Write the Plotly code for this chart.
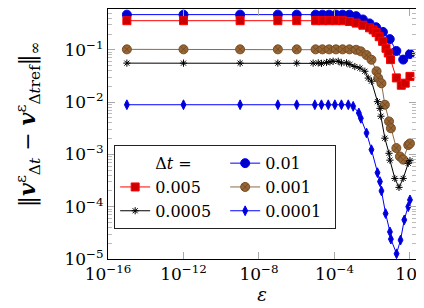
import plotly.graph_objects as go

# ---- data ----
eps_dt_1e2 = [1e-15, 1e-12, 1e-9, 1e-7, 1e-6, 1e-5, 2.3e-5, 5.2e-5, 1.2e-4, 2.7e-4, 6.2e-4,
              1.4e-3, 3.2e-3, 7.2e-3, 1.6e-2, 3.7e-2, 8.5e-2, 0.19, 0.44, 1.0]
err_dt_1e2 = [0.47, 0.47, 0.47, 0.47, 0.47, 0.47, 0.47, 0.47, 0.47, 0.47, 0.47,
              0.44, 0.38, 0.32, 0.27, 0.22, 0.16, 0.095, 0.065, 0.083]

eps_dt_5e3 = [1e-15, 1e-12, 1e-9, 1e-7, 1e-6, 1e-5, 2.3e-5, 5.2e-5, 1.2e-4, 2.7e-4, 6.2e-4,
              1.4e-3, 3.2e-3, 7.2e-3, 0.0112, 1.6e-2, 0.0234, 0.0355, 0.0537, 0.0708, 0.0933,
              0.19, 0.347, 0.562, 1.0]
err_dt_5e3 = [0.36, 0.36, 0.36, 0.36, 0.36, 0.36, 0.36, 0.36, 0.36, 0.36, 0.347,
              0.324, 0.295, 0.263, 0.24, 0.214, 0.178, 0.145, 0.107, 0.087, 0.065,
              0.029, 0.021, 0.023, 0.031]

eps_dt_1e3 = [1e-15, 1e-12, 1e-9, 1e-7, 1e-6, 1e-5, 2.3e-5, 5.2e-5, 1.2e-4, 2.7e-4, 6.2e-4,
              1.4e-3, 2.51e-3, 5.01e-3, 9.12e-3, 0.017, 0.0209, 0.0309, 0.0468, 0.0776, 0.0977,
              0.19, 0.295, 0.44, 0.813, 1.0]
err_dt_1e3 = [0.102, 0.102, 0.102, 0.102, 0.102, 0.102, 0.102, 0.102, 0.102, 0.102, 0.102,
              0.1, 0.0933, 0.0794, 0.0646, 0.0389, 0.0288, 0.0229, 0.0089, 0.00427, 0.00316,
              0.00132, 0.000912, 0.000794, 0.00151, 0.00162]

eps_dt_5e4 = [1e-15, 1e-12, 1e-9, 1e-7, 1e-6, 7.4e-6, 1.38e-5, 2.04e-5, 3.8e-5, 5.75e-5, 8.5e-5,
              1.58e-4, 2.34e-4, 4.37e-4, 6.6e-4, 1.2e-3, 2.24e-3, 4.07e-3, 6.17e-3, 9.1e-3,
              0.019, 0.0257, 0.0288, 0.0468, 0.0776, 0.087, 0.158, 0.263, 0.437, 0.813, 1.0]
err_dt_5e4 = [0.0556, 0.0556, 0.0556, 0.0556, 0.0556, 0.0556, 0.0562, 0.055, 0.0575, 0.0589, 0.0603,
              0.0603, 0.0562, 0.0562, 0.0525, 0.0479, 0.0447, 0.0389, 0.0288, 0.0251,
              0.0102, 0.00759, 0.00537, 0.00204, 0.00105, 0.000776, 0.000347, 0.000234,
              0.000347, 0.000676, 0.000759]

eps_dt_1e4 = [1e-15, 1e-12, 1e-9, 1e-7, 1e-6, 9.1e-6, 2.04e-5, 4.7e-5, 1.05e-4, 2.34e-4, 5.4e-4,
              9.8e-4, 1.95e-3, 2.5e-3, 5e-3, 9.1e-3, 0.019, 0.0257, 0.0309, 0.0513, 0.087,
              0.0977, 0.195, 0.316, 0.5, 0.813, 1.0]
err_dt_1e4 = [0.0089, 0.0089, 0.0089, 0.0089, 0.0089, 0.0089, 0.0089, 0.0089, 0.0089, 0.0089, 0.0089,
              0.0083, 0.0062, 0.0049, 0.00257, 0.00123, 0.000447, 0.000302, 0.0002, 7.4e-5, 3.3e-5,
              2.4e-5, 1.26e-5, 2.3e-5, 5.6e-5, 1e-4, 1.35e-4]

legend_labels = ["0.01", "0.005", "0.001", "0.0005", "0.0001"]

x_tickvals = [1e-16, 1e-12, 1e-8, 1e-4, 1e0]
x_ticktext = ["10<sup>−16</sup>", "10<sup>−12</sup>", "10<sup>−8</sup>", "10<sup>−4</sup>", "10<sup>0</sup>"]
y_tickvals = [1e-5, 1e-4, 1e-3, 1e-2, 1e-1]
y_ticktext = ["10<sup>−5</sup>", "10<sup>−4</sup>", "10<sup>−3</sup>", "10<sup>−2</sup>", "10<sup>−1</sup>"]

FONT = "DejaVu Serif"

fig = go.Figure()

# dummy legend entry for the "Δt =" header
fig.add_trace(go.Scatter(x=[None], y=[None], mode="lines", line=dict(width=0, color="rgba(0,0,0,0)"),
                         name="Δ<i>t</i> =", showlegend=True, hoverinfo="skip"))

styles = [
    dict(line=dict(color="#0000FF", width=1),
         marker=dict(symbol="circle", size=9, color="#0000CC", line=dict(color="#0000FF", width=1))),
    dict(line=dict(color="#FF0000", width=1),
         marker=dict(symbol="square", size=8, color="#CC0000", line=dict(color="#FF0000", width=1))),
    dict(line=dict(color="#8C6B4A", width=1),
         marker=dict(symbol="circle-x", size=9, color="#996633", line=dict(color="#734D26", width=1))),
    dict(line=dict(color="#000000", width=1),
         marker=dict(symbol="asterisk-open", size=6, color="#000000", line=dict(color="#000000", width=1))),
    dict(line=dict(color="#0000FF", width=1),
         marker=dict(symbol="diamond-tall", size=7, color="#0000CC", line=dict(color="#0000FF", width=1))),
]
series = [(eps_dt_1e2, err_dt_1e2), (eps_dt_5e3, err_dt_5e3), (eps_dt_1e3, err_dt_1e3),
          (eps_dt_5e4, err_dt_5e4), (eps_dt_1e4, err_dt_1e4)]

for (xs, ys), st, lab in zip(series, styles, legend_labels):
    fig.add_trace(go.Scatter(x=xs, y=ys, mode="lines+markers", name=lab, **st))

tickfont = dict(family=FONT, size=17, color="#000000")

fig.update_layout(
    width=424, height=308,
    margin=dict(l=100, r=16, t=1, b=57),
    paper_bgcolor="white", plot_bgcolor="white",
    font=dict(family=FONT, size=17, color="#000000"),
    showlegend=True,
    legend=dict(
        orientation="h", x=0.02, y=0.455, xanchor="left", yanchor="top",
        entrywidth=65, entrywidthmode="pixels",
        bgcolor="white", bordercolor="#222222", borderwidth=1,
        font=dict(family=FONT, size=16, color="#000000"),
        traceorder="normal",
    ),
    xaxis=dict(
        type="log", range=[-16, 0.32], tickvals=x_tickvals, ticktext=x_ticktext,
        showgrid=False, zeroline=False,
        showline=True, linecolor="#000000", linewidth=1, mirror="allticks",
        ticks="inside", ticklen=7, tickcolor="#aaaaaa", tickwidth=1,
        tickfont=tickfont,
        title=dict(text="<i>ε</i>", font=dict(family=FONT, size=18), standoff=0),
    ),
    yaxis=dict(
        type="log", range=[-5, -0.22], tickvals=y_tickvals, ticktext=y_ticktext,
        showgrid=False, zeroline=False,
        showline=True, linecolor="#000000", linewidth=1, mirror="allticks",
        ticks="inside", ticklen=7, tickcolor="#aaaaaa", tickwidth=1,
        minor=dict(ticks="inside", ticklen=4, tickcolor="#bbbbbb", dtick="D1", showgrid=False),
        tickfont=tickfont,
    ),
    annotations=[dict(
        text="‖<b><i>v</i></b><sup>ε</sup><sub>Δ<i>t</i></sub> − <b><i>v</i></b><sup>ε</sup><sub>Δ<i>t</i>ref</sub>‖<sub>∞</sub>",
        textangle=-90, xref="paper", yref="paper", x=-0.26, y=0.54,
        xanchor="center", yanchor="middle", showarrow=False,
        font=dict(family=FONT, size=22, color="#000000"),
    )],
)

fig.write_html("out.html")
